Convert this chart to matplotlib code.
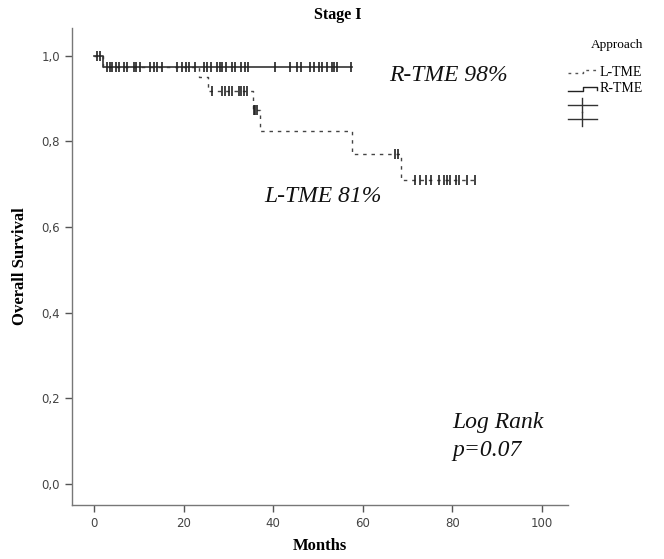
import matplotlib.pyplot as plt
from matplotlib.lines import Line2D
import numpy as np

# Kaplan-Meier steps: event times (months) and survival after each event
r_event_t = [1.9]
r_event_s = [0.975]
r_end = 57.7
r_censor = [0.6, 1.2, 2.8, 3.4, 4.0, 4.8, 5.4, 6.6, 7.3, 8.8, 9.2, 10.1, 12.5, 13.3,
            14.0, 15.1, 18.5, 19.6, 20.4, 21.1, 22.6, 24.5, 25.2, 26.0, 27.4, 28.2,
            28.6, 29.5, 30.8, 31.5, 32.7, 33.6, 34.3, 40.5, 43.8, 45.3, 46.1, 48.3,
            49.1, 50.2, 50.9, 52.1, 53.2, 53.5, 54.3, 57.3]

l_event_t = [1.9, 23.3, 25.5, 35.4, 37.1, 57.6, 68.5]
l_event_s = [0.975, 0.950, 0.917, 0.874, 0.825, 0.771, 0.710]
l_end = 85.5
l_censor = [26.3, 28.5, 29.3, 30.0, 30.8, 32.3, 32.8, 33.4, 34.2, 35.6, 36.0, 36.4,
            67.3, 68.0, 71.8, 72.9, 74.1, 75.2, 77.0, 78.1, 78.9, 79.6, 80.8, 81.5,
            83.4, 85.2]

x_ticks = [0, 20, 40, 60, 80, 100]
y_ticks = [0.0, 0.2, 0.4, 0.6, 0.8, 1.0]
y_ticklabels = ['0,0', '0,2', '0,4', '0,6', '0,8', '1,0']


def km_curve(event_t, event_s, end):
    t = np.concatenate([[0.0], event_t, [end]])
    s = np.concatenate([[1.0], event_s, [event_s[-1]]])
    return t, s


def surv_at(t_points, t, s):
    idx = np.searchsorted(t, t_points, side='right') - 1
    return s[idx]


W, H = 664, 559
fig = plt.figure(figsize=(W / 100, H / 100), dpi=100)
ax = fig.add_axes([72 / W, 1 - 505 / H, (568 - 72) / W, (505 - 28) / H])

serif = 'Liberation Serif'
gray = '#555555'

rt, rs = km_curve(r_event_t, r_event_s, r_end)
lt, ls = km_curve(l_event_t, l_event_s, l_end)

ax.step(lt, ls, where='post', color='#444444', lw=1.0, linestyle=(0, (2.5, 3.5)))
ax.step(rt, rs, where='post', color='#333333', lw=1.2)

ax.plot(r_censor, surv_at(r_censor, rt, rs), linestyle='none', marker='|',
        ms=6.5, mew=1.2, color='#222222')
ax.plot(l_censor, surv_at(l_censor, lt, ls), linestyle='none', marker='|',
        ms=6.5, mew=1.2, color='#222222')

ax.set_xlim(-5.0, 105.9)
ax.set_ylim(-0.049, 1.065)
ax.set_xticks(x_ticks)
ax.set_yticks(y_ticks)
ax.set_yticklabels(y_ticklabels)
ax.tick_params(direction='out', length=5, width=1, color=gray, labelcolor='#444444',
               labelsize=8.5)
for side in ['top', 'right']:
    ax.spines[side].set_visible(False)
for side in ['left', 'bottom']:
    ax.spines[side].set_color('#777777')
    ax.spines[side].set_linewidth(1.0)

ax.set_xlabel('Months', fontfamily=serif, fontweight='bold', fontsize=12, labelpad=6)
ax.set_ylabel('Overall Survival', fontfamily=serif, fontweight='bold', fontsize=12,
              labelpad=10)
fig.text(338 / W, 1 - 15 / H, 'Stage I', ha='center', va='center', fontfamily=serif,
         fontweight='bold', fontsize=11.5)

# annotations in data coordinates
ann = dict(fontfamily=serif, fontstyle='italic', fontsize=17, color='#111111')
ax.text(66, 0.955, 'R-TME 98%', ha='left', va='center', **ann)
ax.text(38, 0.672, 'L-TME 81%', ha='left', va='center', **ann)
ax.text(80.0, 0.144, 'Log Rank', ha='left', va='center', **ann)
ax.text(80.0, 0.078, 'p=0.07', ha='left', va='center', **ann)

# legend drawn in figure pixels
def fx(px):
    return px / W


def fy(py):
    return 1 - py / H


fig.text(fx(617), fy(45), 'Approach', ha='center', va='center', fontfamily=serif,
         fontsize=9.5)
fig.add_artist(Line2D([fx(568), fx(583), fx(583), fx(597)],
                      [fy(73), fy(73), fy(69.5), fy(69.5)], color='#555555', lw=1,
                      linestyle=(0, (2, 3)), transform=fig.transFigure))
fig.text(fx(600), fy(72), 'L-TME', ha='left', va='center', fontfamily=serif, fontsize=10)
fig.add_artist(Line2D([fx(568), fx(583), fx(583), fx(597), fx(597)],
                      [fy(91), fy(91), fy(86.5), fy(86.5), fy(90)], color='#222222',
                      lw=1, transform=fig.transFigure))
fig.text(fx(600), fy(88), 'R-TME', ha='left', va='center', fontfamily=serif, fontsize=10)
for cy in [105, 119]:
    fig.add_artist(Line2D([fx(568), fx(597)], [fy(cy), fy(cy)], color='#333333', lw=1,
                          transform=fig.transFigure))
    fig.add_artist(Line2D([fx(582), fx(582)], [fy(cy - 7), fy(cy + 7)], color='#333333',
                          lw=1, transform=fig.transFigure))

fig.savefig('out.png', dpi=100)
